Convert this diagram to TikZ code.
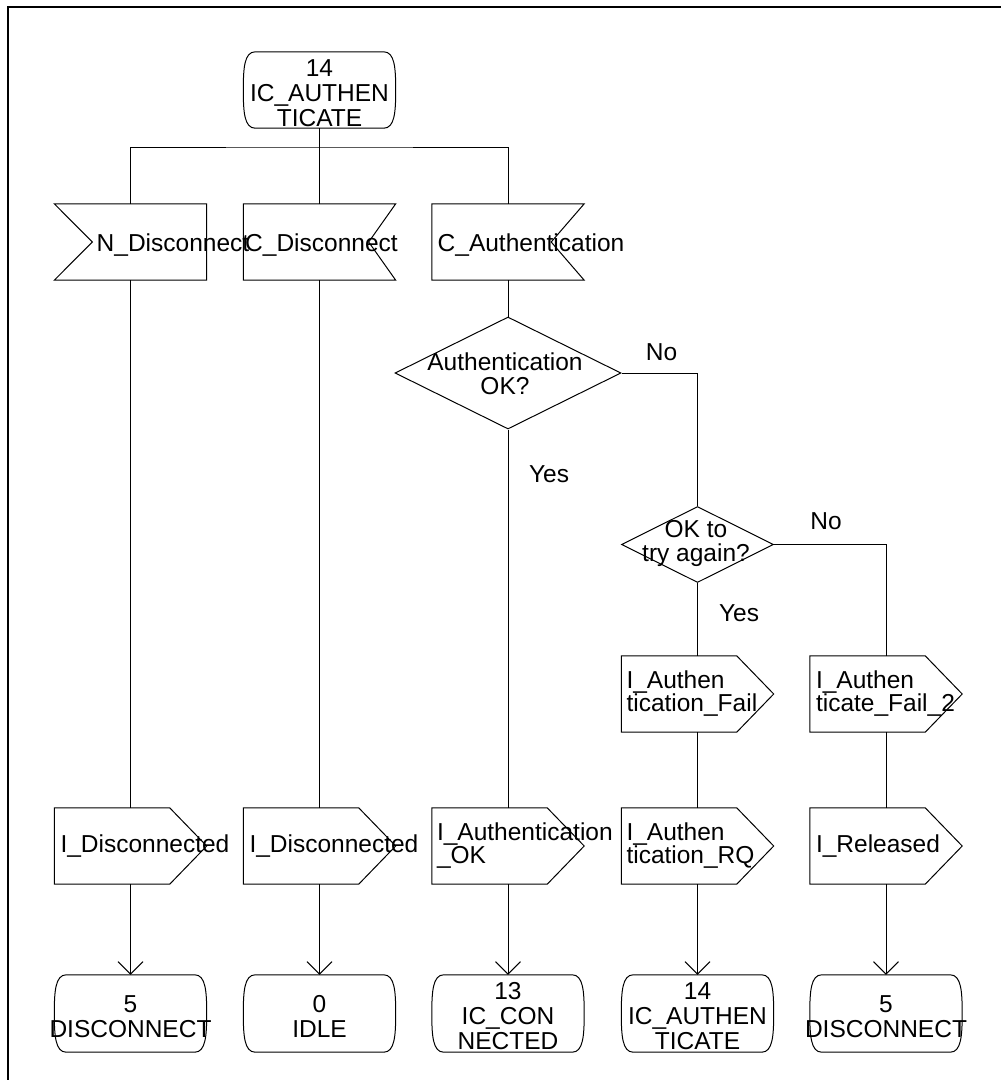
\documentclass[tikz,border=0pt]{standalone}
\usepackage{fontspec}
\setmainfont{Liberation Sans}
\usetikzlibrary{shapes.geometric,arrows.meta,calc}
\hyphenpenalty=10000

% SDL state symbol: flat top and bottom, convex sides
\newcommand\stateoutline[1]{%
  \draw[wire] ([xshift=12pt]#1.north west) -- ([xshift=-12pt]#1.north east)
    .. controls ([xshift=-1pt]#1.north east) and ([yshift=22pt]#1.east) .. (#1.east)
    .. controls ([yshift=-22pt]#1.east) and ([xshift=-1pt]#1.south east) .. ([xshift=-12pt]#1.south east)
    -- ([xshift=12pt]#1.south west)
    .. controls ([xshift=1pt]#1.south west) and ([yshift=-22pt]#1.west) .. (#1.west)
    .. controls ([yshift=22pt]#1.west) and ([xshift=1pt]#1.north west) .. ([xshift=12pt]#1.north west)
    -- cycle;}
% SDL input symbol, notch on the left (#2 = notch depth)
\newcommand\inleft[2]{%
  \draw[wire] (#1.north west) -- (#1.north east) -- (#1.south east) -- (#1.south west)
    -- ([xshift=#2]#1.west) -- cycle;}
% SDL input symbol, notch on the right
\newcommand\inright[2]{%
  \draw[wire] (#1.north west) -- (#1.north east) -- ([xshift=-#2]#1.east)
    -- (#1.south east) -- (#1.south west) -- cycle;}
% SDL output symbol, pointed to the right
\newcommand\outsym[1]{%
  \draw[wire] (#1.north west) -- ([xshift=-37pt]#1.north east) -- (#1.east)
    -- ([xshift=-37pt]#1.south east) -- (#1.south west) -- cycle;}

\begin{document}
\begin{tikzpicture}[x=1pt,y=-1pt,
  wire/.style={line width=1pt, line join=miter},
  box/.style={rectangle, minimum width=152pt, minimum height=76pt, inner sep=0pt},
  stbox/.style={box, minimum height=77pt},
  dec/.style={diamond, draw, line width=1pt, inner sep=0pt},
  lbl/.style={inner sep=0pt, font=\fontsize{24.5}{25}\selectfont},
  flow/.style={wire, -{Straight Barb[length=12.5pt,width=25pt,line width=1pt]}},
]
\useasboundingbox (0,0) rectangle (1001,1080);

% frame
\draw[line width=2pt] (7.5,1080) -- (7.5,6.5) -- (1001,6.5);

% start state
\node[box] (s0) at (319.5,90) {};
\stateoutline{s0}
\node[lbl, align=center] (s0t) at (319.5,93) {14\\IC\_AUTHEN\\TICATE};

% inputs
\node[box] (i1) at (130.5,242) {};
\node[box] (i2) at (319.5,242) {};
\node[box] (i3) at (508,242) {};
\inleft{i1}{38pt}
\inright{i2}{27pt}
\inright{i3}{33pt}
\node[lbl, anchor=base west] (i1t) at (96.5,251) {N\_Disconnect};
\node[lbl, anchor=base west] (i2t) at (245,251) {C\_Disconnect};
\node[lbl, anchor=base west] (i3t) at (437.5,251) {C\_Authentication};

% decisions
\node[dec, minimum width=226pt, minimum height=112pt] (d1) at (508,373) {};
\node[lbl, align=center, font=\fontsize{24.5}{24}\selectfont] (d1t) at (505,374) {Authentication\\OK?};
\node[dec, minimum width=152pt, minimum height=76pt] (d2) at (697.5,544.5) {};
\node[lbl, align=center, font=\fontsize{24.5}{24}\selectfont] (d2t) at (696,543) {OK to\\try again?};

% branch labels
\node[lbl] (no1) at (661.5,352) {No};
\node[lbl] (yes1) at (549,474) {Yes};
\node[lbl] (no2) at (826,521) {No};
\node[lbl] (yes2) at (739,613) {Yes};

% outputs
\node[box] (o4) at (697.5,694) {};
\node[box] (o6) at (886,694) {};
\node[box] (o1) at (130.5,846) {};
\node[box] (o2) at (319.5,846) {};
\node[box] (o3) at (508,846) {};
\node[box] (o5) at (697.5,846) {};
\node[box] (o7) at (886,846) {};
\foreach \n in {o1,o2,o3,o4,o5,o6,o7} {\outsym{\n}}
\node[lbl, align=left, anchor=west, font=\fontsize{24.5}{23}\selectfont] (o4t) at ([xshift=5pt]o4.west) {I\_Authen\\tication\_Fail};
\node[lbl, align=left, anchor=west, font=\fontsize{24.5}{23}\selectfont] (o6t) at ([xshift=6pt]o6.west) {I\_Authen\\ticate\_Fail\_2};
\node[lbl, anchor=west] (o1t) at ([xshift=6pt]o1.west) {I\_Disconnected};
\node[lbl, anchor=west] (o2t) at ([xshift=6pt]o2.west) {I\_Disconnected};
\node[lbl, align=left, anchor=west, font=\fontsize{24.5}{23}\selectfont] (o3t) at ([xshift=5pt]o3.west) {I\_Authentication\\\_OK};
\node[lbl, align=left, anchor=west, font=\fontsize{24.5}{23}\selectfont] (o5t) at ([xshift=5pt]o5.west) {I\_Authen\\tication\_RQ};
\node[lbl, anchor=west] (o7t) at ([xshift=6pt]o7.west) {I\_Released};

% next states
\node[stbox] (st1) at (130.5,1013.5) {};
\node[stbox] (st2) at (319.5,1013.5) {};
\node[stbox] (st3) at (508,1013.5) {};
\node[stbox] (st4) at (697.5,1013.5) {};
\node[stbox] (st5) at (886,1013.5) {};
\foreach \n in {st1,st2,st3,st4,st5} {\stateoutline{\n}}
\node[lbl, align=center] (st1t) at (130.5,1016.5) {5\\DISCONNECT};
\node[lbl, align=center] (st2t) at (319.5,1016.5) {0\\IDLE};
\node[lbl, align=center] (st3t) at (508,1016.5) {13\\IC\_CON\\NECTED};
\node[lbl, align=center] (st4t) at (697.5,1016.5) {14\\IC\_AUTHEN\\TICATE};
\node[lbl, align=center] (st5t) at (886,1016.5) {5\\DISCONNECT};

% connectors
\coordinate (bus) at (319.5,147);
\draw[wire] (s0.south) -- (bus);
\draw[wire] (i1.north) |- (bus) -| (i3.north);
\draw[wire] (bus) -- (i2.north);
\draw[wire] (i1.south) -- (o1.north);
\draw[wire] (i2.south) -- (o2.north);
\draw[wire] (i3.south) -- (d1.north);
\draw[wire] (d1.south) -- (o3.north);
\draw[wire] (d1.east) -| (d2.north);
\draw[wire] (d2.south) -- (o4.north);
\draw[wire] (o4.south) -- (o5.north);
\draw[wire] (d2.east) -| (o6.north);
\draw[wire] (o6.south) -- (o7.north);
\draw[flow] (o1.south) -- (st1.north);
\draw[flow] (o2.south) -- (st2.north);
\draw[flow] (o3.south) -- (st3.north);
\draw[flow] (o5.south) -- (st4.north);
\draw[flow] (o7.south) -- (st5.north);
\end{tikzpicture}
\end{document}
